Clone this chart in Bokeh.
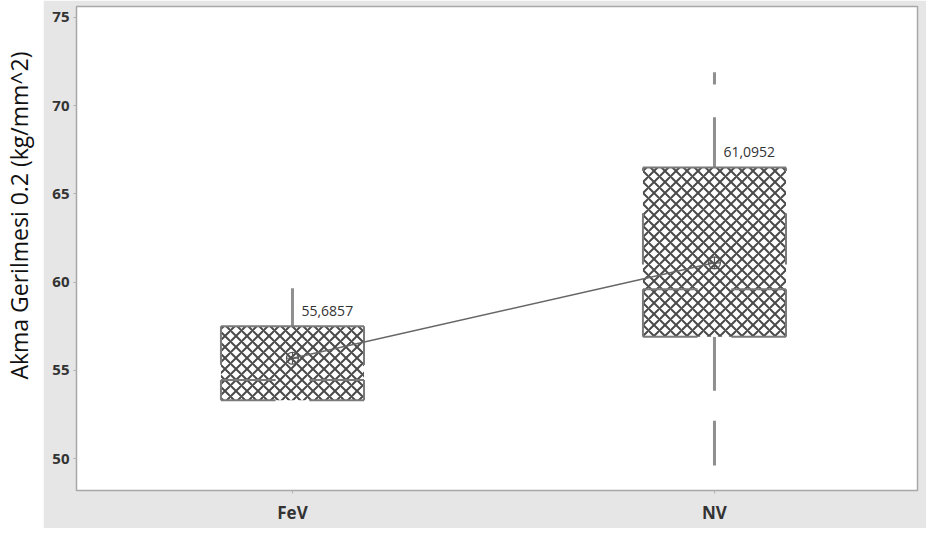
from bokeh.plotting import figure
from bokeh.layouts import row
from bokeh.models import Range1d, FixedTicker
from bokeh.core.properties import value
from bokeh.embed import file_html
from bokeh.resources import INLINE
import math

# ---- data ----
categories = ["FeV", "NV"]
positions = [1, 2]
q1 = [53.3, 56.9]
medians = [54.45, 59.6]
q3 = [57.5, 66.5]
means = [55.6857, 61.0952]
mean_labels = ["55,6857", "61,0952"]
whisker_segments = [
    [(57.5, 59.65)],
    [(66.5, 69.35), (71.2, 71.9), (53.85, 56.9), (49.6, 52.15)],
]
side_gaps = [
    [(54.45, 55.3)],
    [(59.6, 61.0), (63.9, 66.3)],
]
y_ticks = [50, 55, 60, 65, 70, 75]
y_label = "Akma Gerilmesi 0.2 (kg/mm^2)"

# ---- style ----
BG = "#e6e6e6"
BOX_LINE = "#7a7a7a"
WHISK = "#8f8f8f"
box_w = 0.339
center_gap = 0.04
H = 528

# ---- left strip with y label ----
lab = figure(width=43, height=H, x_range=Range1d(0, 1), y_range=Range1d(0, 1),
             toolbar_location=None, output_backend="svg",
             min_border_left=0, min_border_right=0, min_border_top=0, min_border_bottom=0)
lab.axis.visible = False
lab.grid.visible = False
lab.outline_line_color = None
lab.background_fill_color = "white"
lab.border_fill_color = "white"
lab.text(x=[0.43], y=[0.568], text=[y_label], angle=math.pi / 2,
         text_align="center", text_baseline="middle",
         text_font=value("Open Sans"), text_font_size="23px", text_color="#111111")

# ---- main plot ----
p = figure(width=883, height=H, x_range=Range1d(0.4882, 2.4811), y_range=Range1d(48.19, 75.62),
           toolbar_location=None, output_backend="svg",
           min_border_left=33, min_border_right=9, min_border_top=6, min_border_bottom=38)
p.background_fill_color = "white"
p.border_fill_color = BG
p.outline_line_color = "#a8a8a8"
p.outline_line_width = 1.5
p.grid.visible = False

p.yaxis.ticker = FixedTicker(ticks=y_ticks)
p.xaxis.ticker = FixedTicker(ticks=positions)
p.xaxis.major_label_overrides = {pos: c for pos, c in zip(positions, categories)}
for ax in (p.xaxis[0], p.yaxis[0]):
    ax.axis_line_color = None
    ax.major_tick_out = 3
    ax.major_tick_in = 0
    ax.minor_tick_out = 0
    ax.minor_tick_in = 0
    ax.major_tick_line_color = "#b0b0b0"
    ax.major_label_text_font = "Open Sans"
    ax.major_label_text_font_style = "bold"
    ax.major_label_text_color = "#333333"
p.yaxis.major_label_text_font_size = "15px"
p.yaxis.major_label_standoff = 4
p.xaxis.major_label_text_font_size = "17px"
p.xaxis.major_label_standoff = 7

# whiskers
wx0, wy0, wx1, wy1 = [], [], [], []
for pos, segs in zip(positions, whisker_segments):
    for a, b in segs:
        wx0.append(pos); wy0.append(a); wx1.append(pos); wy1.append(b)
p.segment(x0=wx0, y0=wy0, x1=wx1, y1=wy1, line_color=WHISK, line_width=3)

# hatched boxes
p.quad(left=[x - box_w / 2 for x in positions], right=[x + box_w / 2 for x in positions],
       bottom=q1, top=q3, fill_color="white", line_color=None,
       hatch_pattern="x", hatch_color="#4a4a4a", hatch_scale=11, hatch_weight=2)

# box outlines (notched look: sides broken, median and bottom edge broken in center)
sx0, sy0, sx1, sy1 = [], [], [], []
for pos, lo, med, hi, gaps in zip(positions, q1, medians, q3, side_gaps):
    L, R = pos - box_w / 2, pos + box_w / 2
    sx0.append(L); sy0.append(hi); sx1.append(R); sy1.append(hi)
    for yy in (lo, med):
        sx0 += [L, pos + center_gap]; sy0 += [yy, yy]
        sx1 += [pos - center_gap, R]; sy1 += [yy, yy]
    pieces = []
    start = lo
    for g0, g1 in sorted(gaps):
        pieces.append((start, g0))
        start = g1
    pieces.append((start, hi))
    for a, b in pieces:
        for xx in (L, R):
            sx0.append(xx); sy0.append(a); sx1.append(xx); sy1.append(b)
p.segment(x0=sx0, y0=sy0, x1=sx1, y1=sy1, line_color=BOX_LINE, line_width=2)

# mean connect line and symbols
p.line(x=positions, y=means, line_color="#666666", line_width=1.5)
p.scatter(x=positions, y=means, marker="circle_cross", size=12,
          fill_color=None, line_color="#555555", line_width=1.2)

# mean labels
p.text(x=positions, y=q3, text=mean_labels, x_offset=9, y_offset=-15,
       text_align="left", text_baseline="middle",
       text_font=value("Open Sans"), text_font_size="14px", text_color="#333333")

layout = row(lab, p)
open("out.html", "w").write(file_html(layout, INLINE))
